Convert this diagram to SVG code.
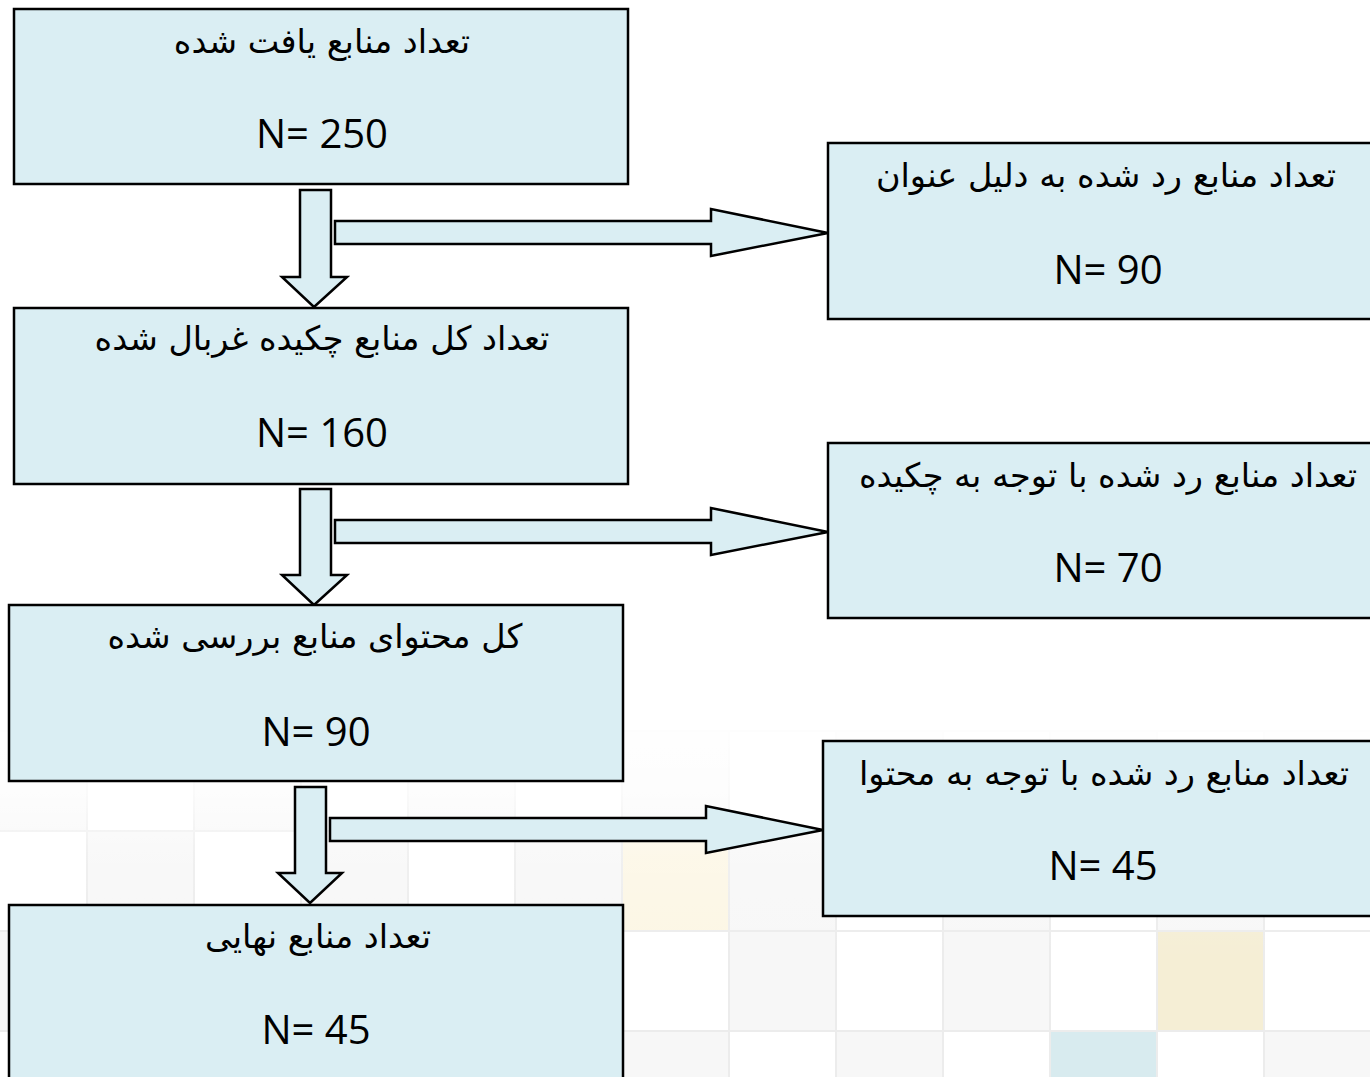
<svg xmlns="http://www.w3.org/2000/svg" width="1370" height="1077" viewBox="0 0 1370 1077">
<defs>
<style>
.box{fill:#DAEEF3;stroke:#000;stroke-width:2.5}
.arr{fill:#DAEEF3;stroke:#000;stroke-width:2.5;stroke-linejoin:miter}
.fa{font-family:"DejaVu Sans",sans-serif;font-size:33.5px;fill:#000;text-anchor:middle;direction:rtl}
.num{font-family:"Open Sans","Liberation Sans",sans-serif;font-size:40px;fill:#000;text-anchor:middle}
.tw{fill:#ffffff;stroke:#ececec;stroke-width:2}
.tg{fill:#f7f7f7;stroke:#ececec;stroke-width:2}
</style>
<linearGradient id="fade" x1="0" y1="0" x2="0" y2="1">
<stop offset="0" stop-color="#fff" stop-opacity="1"/>
<stop offset="0.35" stop-color="#fff" stop-opacity="0.75"/>
<stop offset="0.6" stop-color="#fff" stop-opacity="0.2"/>
<stop offset="1" stop-color="#fff" stop-opacity="0"/>
</linearGradient>
</defs>
<rect width="1370" height="1077" fill="#fff"/>
<g id="background">
<g>
<rect class="tg" x="-20" y="731" width="107" height="100"/><rect class="tw" x="87" y="731" width="107" height="100"/><rect class="tg" x="194" y="731" width="107" height="100"/><rect class="tw" x="301" y="731" width="107" height="100"/><rect class="tg" x="408" y="731" width="107" height="100"/><rect class="tw" x="515" y="731" width="107" height="100"/><rect class="tg" x="622" y="731" width="107" height="100"/><rect class="tw" x="729" y="731" width="107" height="100"/><rect class="tg" x="836" y="731" width="107" height="100"/><rect class="tw" x="943" y="731" width="107" height="100"/><rect class="tg" x="1050" y="731" width="107" height="100"/><rect class="tw" x="1157" y="731" width="107" height="100"/><rect class="tg" x="1264" y="731" width="107" height="100"/>
<rect class="tw" x="-20" y="831" width="107" height="100"/><rect class="tg" x="87" y="831" width="107" height="100"/><rect class="tw" x="194" y="831" width="107" height="100"/><rect class="tg" x="301" y="831" width="107" height="100"/><rect class="tw" x="408" y="831" width="107" height="100"/><rect class="tg" x="515" y="831" width="107" height="100"/><rect fill="#fcf6e4" stroke="#ececec" stroke-width="2" x="622" y="831" width="107" height="100"/><rect class="tg" x="729" y="831" width="107" height="100"/><rect class="tw" x="836" y="831" width="107" height="100"/><rect class="tg" x="943" y="831" width="107" height="100"/><rect class="tw" x="1050" y="831" width="107" height="100"/><rect class="tg" x="1157" y="831" width="107" height="100"/><rect class="tw" x="1264" y="831" width="107" height="100"/>
<rect class="tg" x="-20" y="931" width="107" height="100"/><rect class="tw" x="87" y="931" width="107" height="100"/><rect class="tg" x="194" y="931" width="107" height="100"/><rect class="tw" x="301" y="931" width="107" height="100"/><rect class="tg" x="408" y="931" width="107" height="100"/><rect class="tw" x="515" y="931" width="107" height="100"/><rect class="tw" x="622" y="931" width="107" height="100"/><rect class="tg" x="729" y="931" width="107" height="100"/><rect class="tw" x="836" y="931" width="107" height="100"/><rect class="tg" x="943" y="931" width="107" height="100"/><rect class="tw" x="1050" y="931" width="107" height="100"/><rect fill="#f5eed5" stroke="#ececec" stroke-width="2" x="1157" y="931" width="107" height="100"/><rect class="tw" x="1264" y="931" width="107" height="100"/>
<rect class="tw" x="-20" y="1031" width="107" height="100"/><rect class="tg" x="87" y="1031" width="107" height="100"/><rect class="tw" x="194" y="1031" width="107" height="100"/><rect class="tg" x="301" y="1031" width="107" height="100"/><rect class="tw" x="408" y="1031" width="107" height="100"/><rect class="tg" x="515" y="1031" width="107" height="100"/><rect class="tg" x="622" y="1031" width="107" height="100"/><rect class="tw" x="729" y="1031" width="107" height="100"/><rect class="tg" x="836" y="1031" width="107" height="100"/><rect class="tw" x="943" y="1031" width="107" height="100"/><rect fill="#d8ebef" stroke="#ececec" stroke-width="2" x="1050" y="1031" width="107" height="100"/><rect class="tw" x="1157" y="1031" width="107" height="100"/><rect class="tg" x="1264" y="1031" width="107" height="100"/>
</g>
<rect x="0" y="700" width="1370" height="260" fill="url(#fade)"/>
</g>
<g id="connectors">
<polygon class="arr" points="300,190 331,190 331,277 347,277 314,307 282,277 300,277"/>
<polygon class="arr" points="335,221 711,221 711,209 828,233 711,256 711,244 335,244"/>
<polygon class="arr" points="300,489 331,489 331,575 347,575 314,605 282,575 300,575"/>
<polygon class="arr" points="335,520 711,520 711,508 828,532 711,555 711,543 335,543"/>
<polygon class="arr" points="295,787 326,787 326,873 342,873 310,903 278,873 295,873"/>
<polygon class="arr" points="330,818 706,818 706,806 823,830 706,853 706,841 330,841"/>
</g>
<g id="node1">
<rect class="box" x="14" y="9" width="614" height="175"/>
<text class="fa" x="322" y="53">تعداد منابع یافت شده</text>
<text class="num" x="322" y="148">N= 250</text>
</g>
<g id="node2">
<rect class="box" x="828" y="143" width="560" height="176"/>
<text class="fa" x="1106" y="187">تعداد منابع رد شده به دلیل عنوان</text>
<text class="num" x="1108" y="284">N= 90</text>
</g>
<g id="node3">
<rect class="box" x="14" y="308" width="614" height="176"/>
<text class="fa" x="322" y="350">تعداد کل منابع چکیده غربال شده</text>
<text class="num" x="322" y="447">N= 160</text>
</g>
<g id="node4">
<rect class="box" x="828" y="443" width="560" height="175"/>
<text class="fa" x="1108" y="487">تعداد منابع رد شده با توجه به چکیده</text>
<text class="num" x="1108" y="582">N= 70</text>
</g>
<g id="node5">
<rect class="box" x="9" y="605" width="614" height="176"/>
<text class="fa" x="315" y="648">کل محتوای منابع بررسی شده</text>
<text class="num" x="316" y="746">N= 90</text>
</g>
<g id="node6">
<rect class="box" x="823" y="741" width="565" height="175"/>
<text class="fa" x="1104" y="785">تعداد منابع رد شده با توجه به محتوا</text>
<text class="num" x="1103" y="880">N= 45</text>
</g>
<g id="node7">
<rect class="box" x="9" y="905" width="614" height="190"/>
<text class="fa" x="318" y="948">تعداد منابع نهایی</text>
<text class="num" x="316" y="1044">N= 45</text>
</g>
</svg>
